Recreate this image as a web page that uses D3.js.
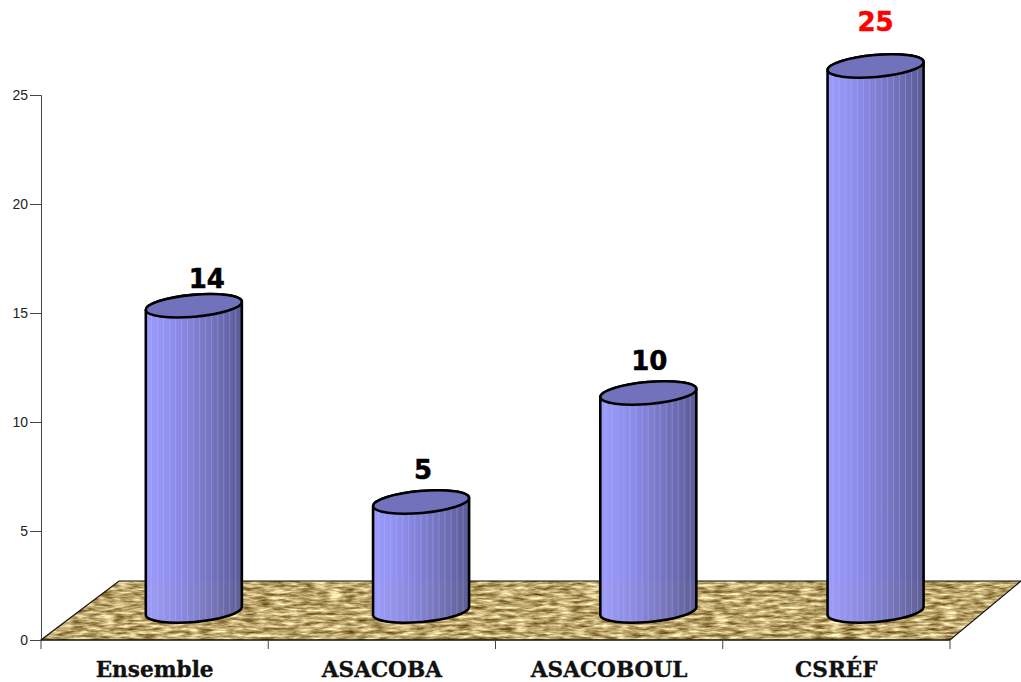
<!DOCTYPE html>
<html>
<head>
<meta charset="utf-8">
<script src="https://cdn.jsdelivr.net/npm/d3@7"></script>
<style>
html,body{margin:0;padding:0;background:#fff;overflow:hidden}
svg{display:block}
</style>
</head>
<body>
<svg id="chart" width="1021" height="682"></svg>
<script>
const categories = ["Ensemble", "ASACOBA", "ASACOBOUL", "CSRÉF"];
const values = [14, 5, 10, 25];
const labelColors = ["#000", "#000", "#000", "#f00"];
const yTicks = [0, 5, 10, 15, 20, 25];

const svg = d3.select("#chart");
const plot = {left: 41, right: 950, top: 95, bottom: 640};
const depth = {x: 71, y: 59};      // floor perspective offset
const cyl = {rx: 48.2, ry: 11, rot: -5, dx: 39.2, dy: 29};
const stripes = d3.range(0.06, 1, 0.0625);
// hand placement of value labels relative to each cylinder's lid
const labelNudge = {Ensemble: [13, -18], ASACOBA: [2, -23], ASACOBOUL: [1, -23], "CSRÉF": [0, -35]};

const x = d3.scaleBand().domain(categories).range([plot.left, plot.right]);
const y = d3.scaleLinear().domain([0, 25]).range([plot.bottom, plot.top]);

const defs = svg.append("defs");

// Woven straw texture for the floor
const tex = defs.append("filter").attr("id", "straw")
  .attr("x", 0).attr("y", 0).attr("width", 1).attr("height", 1)
  .attr("color-interpolation-filters", "sRGB");
tex.append("feTurbulence").attr("type", "fractalNoise")
  .attr("baseFrequency", "0.07 0.32").attr("numOctaves", 3).attr("seed", 11);
tex.append("feColorMatrix").attr("type", "matrix")
  .attr("values", "1.0 0 0 0 0.24  1.05 0 0 0 0.13  1.05 0 0 0 -0.09  0 0 0 0 1");

const body = defs.append("linearGradient").attr("id", "body");
[[0, "#9c9cff"], [0.35, "#8a8ae6"], [0.7, "#7272bc"], [1, "#5a5a96"]].forEach(([o, c]) =>
  body.append("stop").attr("offset", o).attr("stop-color", c));

// Floor
const floorPts = [
  [plot.left, plot.bottom],
  [plot.right, plot.bottom],
  [plot.right + depth.x, plot.bottom - depth.y],
  [plot.left + 78, plot.bottom - depth.y]
];
const floorLine = d3.line()(floorPts) + "Z";
defs.append("clipPath").attr("id", "floorClip").append("path").attr("d", floorLine);
svg.append("g").attr("clip-path", "url(#floorClip)")
  .append("rect")
  .attr("x", plot.left).attr("y", plot.bottom - depth.y)
  .attr("width", plot.right + depth.x - plot.left).attr("height", depth.y)
  .attr("filter", "url(#straw)");
svg.append("path").attr("d", floorLine).attr("fill", "none")
  .attr("stroke", "#111").attr("stroke-width", 1.2);

// Axes
const yAxis = d3.axisLeft(y).tickValues(yTicks).tickSize(11).tickPadding(2);
const gy = svg.append("g").attr("transform", `translate(${plot.left},0)`).call(yAxis);
gy.selectAll("text").attr("font-family", "Liberation Sans, Arial, sans-serif")
  .attr("font-size", 14).attr("fill", "#222");
gy.selectAll("line,path").attr("stroke", "#444");

const edgeScale = d3.scalePoint().domain(d3.range(categories.length + 1)).range([plot.left, plot.right]);
svg.append("line").attr("x1", plot.left).attr("x2", plot.right)
  .attr("y1", plot.bottom).attr("y2", plot.bottom).attr("stroke", "#111");
svg.selectAll(".xtick").data(edgeScale.domain()).join("line").attr("class", "xtick")
  .attr("x1", d => edgeScale(d)).attr("x2", d => edgeScale(d))
  .attr("y1", plot.bottom).attr("y2", plot.bottom + 9)
  .attr("stroke", "#444");

svg.selectAll(".cat").data(categories).join("text").attr("class", "cat")
  .attr("x", d => x(d) + x.bandwidth() / 2)
  .attr("y", 677)
  .attr("text-anchor", "middle")
  .attr("font-family", "DejaVu Serif, serif")
  .attr("font-weight", "bold")
  .attr("font-size", 21.6)
  .attr("fill", "#111")
  .attr("stroke", "#111").attr("stroke-width", 0.35)
  .text(d => d);

// Cylinders
const data = categories.map((c, i) => ({c, v: values[i], col: labelColors[i]}));
const cx = d => x(d.c) + x.bandwidth() / 2 + cyl.dx;
const tilt = -cyl.rot * Math.PI / 180;
const endX = cyl.rx * Math.cos(tilt), endY = cyl.rx * Math.sin(tilt);

function shell(d) {
  const c = cx(d), top = y(d.v) - cyl.dy, bot = y(0) - cyl.dy;
  return `M${c - endX},${top + endY}L${c - endX},${bot + endY}` +
    `A${cyl.rx},${cyl.ry} ${cyl.rot} 0 0 ${c + endX},${bot - endY}` +
    `L${c + endX},${top - endY}` +
    `A${cyl.rx},${cyl.ry} ${cyl.rot} 0 0 ${c - endX},${top + endY}Z`;
}

const cols = svg.selectAll(".col").data(data).join("g").attr("class", "col");
cols.each(function (d, i) {
  const g = d3.select(this);
  const id = "shell" + i;
  defs.append("clipPath").attr("id", id).append("path").attr("d", shell(d));
  g.append("path").attr("d", shell(d)).attr("fill", "url(#body)");
  const inner = g.append("g").attr("clip-path", `url(#${id})`);
  // faint facet lines down the barrel
  inner.selectAll("line").data(stripes).join("line")
    .attr("x1", s => cx(d) - cyl.rx + s * 2 * cyl.rx)
    .attr("x2", s => cx(d) - cyl.rx + s * 2 * cyl.rx)
    .attr("y1", y(d.v) - cyl.dy - cyl.ry - 8)
    .attr("y2", y(0) - cyl.dy + cyl.ry + 8)
    .attr("stroke", "#c4c4ff").attr("stroke-opacity", 0.3).attr("stroke-width", 1);
  // floor tone showing through the lower barrel
  inner.append("rect")
    .attr("x", cx(d) - cyl.rx - 2).attr("width", 2 * cyl.rx + 4)
    .attr("y", plot.bottom - depth.y).attr("height", depth.y)
    .attr("fill", "#c8b070").attr("fill-opacity", 0.04);
  g.append("path").attr("d", shell(d)).attr("fill", "none")
    .attr("stroke", "#000").attr("stroke-width", 2.6).attr("stroke-linejoin", "round");
  g.append("ellipse")
    .attr("cx", cx(d)).attr("cy", y(d.v) - cyl.dy)
    .attr("rx", cyl.rx).attr("ry", cyl.ry)
    .attr("transform", `rotate(${cyl.rot} ${cx(d)} ${y(d.v) - cyl.dy})`)
    .attr("fill", "#7272bc").attr("stroke", "#000").attr("stroke-width", 2.6);
});

// Value labels
svg.selectAll(".val").data(data).join("text").attr("class", "val")
  .attr("x", d => cx(d) + labelNudge[d.c][0])
  .attr("y", d => y(d.v) - cyl.dy + labelNudge[d.c][1])
  .attr("text-anchor", "middle")
  .attr("font-family", "DejaVu Sans, Verdana, sans-serif")
  .attr("font-weight", "bold")
  .attr("font-size", 26)
  .attr("fill", d => d.col)
  .attr("stroke", d => d.col).attr("stroke-width", 0.5)
  .text(d => d.v);
</script>
</body>
</html>
